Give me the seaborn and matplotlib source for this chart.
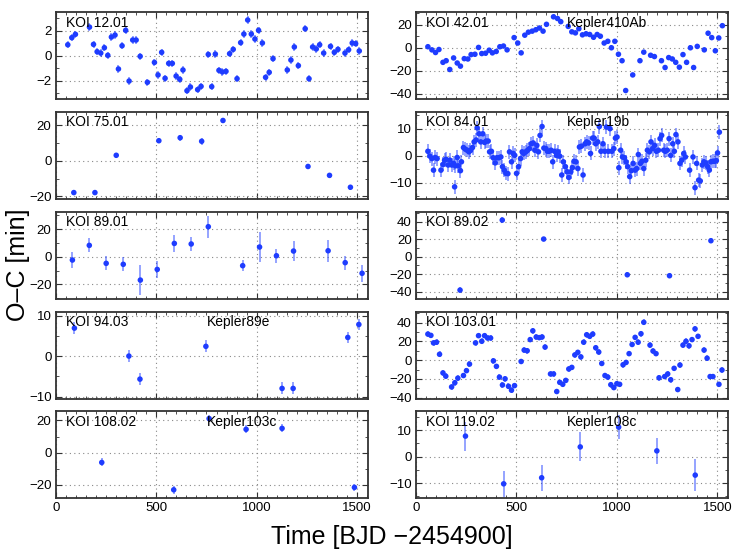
import seaborn as sns
import matplotlib.pyplot as plt
from matplotlib.ticker import MultipleLocator, AutoMinorLocator

# O-C timing residuals per KOI
t_12_01 = [60, 80, 98, 168, 188, 206, 224, 242, 259, 277, 295, 312, 330, 348, 365, 383, 400, 420,
           456, 491, 509, 527, 544, 562, 580, 599, 617, 633, 653, 670, 706, 723, 759, 776, 794, 812,
           829, 847, 865, 883, 902, 920, 936, 955, 973, 991, 1009, 1028, 1044, 1062, 1081, 1152,
           1170, 1187, 1207, 1241, 1260, 1278, 1296, 1313, 1333, 1367, 1386, 1404, 1439, 1457,
           1475, 1492, 1510]
oc_12_01 = [0.88, 1.45, 1.72, 2.3, 0.91, 0.32, 0.21, 0.64, 0.03, 1.5, 1.66, -1.07, 0.8, 2.04, -2.04,
            1.26, 1.26, -0.05, -2.14, -0.54, -1.55, 0.27, -1.82, -0.62, -0.62, -1.64, -1.9, -1.15,
            -2.82, -2.52, -2.73, -2.47, 0.1, -2.49, 0.13, -1.18, -1.31, -1.26, 0.16, 0.51, -1.85,
            1.05, 1.74, 2.87, 1.74, 1.34, 2.04, 1.02, -1.74, -1.34, -0.24, -1.15, -0.35, 0.7, -0.8,
            2.17, -1.85, 0.7, 0.54, 0.88, 0.21, 0.75, 0.27, 0.51, 0.21, 0.48, 1.02, 0.97, 0.38]
err_12_01 = 0.3

t_42_01 = [60, 80, 98, 115, 135, 151, 169, 188, 206, 222, 241, 259, 275, 294, 312, 328, 347, 365,
           381, 400, 418, 436, 454, 489, 507, 524, 542, 560, 579, 597, 615, 633, 650, 685, 705, 721,
           758, 776, 794, 811, 829, 847, 865, 884, 902, 918, 937, 955, 973, 990, 1008, 1026, 1044,
           1079, 1115, 1134, 1168, 1187, 1222, 1240, 1258, 1276, 1293, 1311, 1329, 1347, 1366,
           1382, 1400, 1435, 1454, 1472, 1490, 1507, 1525]
oc_42_01 = [0.9, -1.8, -4.1, -1.5, -12.6, -11.2, -18.8, -8.8, -13.2, -15.9, -9.4, -9.7, -5.9, -5.6,
            0.3, -5.0, -4.7, -2.1, -4.4, -3.2, 0.9, 1.5, -1.8, 8.8, 4.1, -4.4, 10.9, 13.5, 14.4, 15.6,
            17.1, 14.4, 20.3, 26.8, 25.3, 22.6, 18.5, 13.8, 12.9, 16.5, 11.2, 12.1, 11.5, 9.1, 11.5,
            10.0, 4.1, 5.6, 0.0, 5.6, -5.6, -11.2, -37.0, -23.5, -11.2, -3.8, -6.5, -7.6, -11.2,
            -17.1, -8.5, -9.7, -12.6, -16.8, -5.9, -12.6, 0.0, -17.1, 1.2, -1.8, 12.6, 8.8, -2.6,
            8.5, 19.1]
err_42_01 = 2.0

t_75_01 = [90, 195, 301, 513, 619, 726, 832, 1255, 1362, 1466]
oc_75_01 = [-17.9, -17.9, 3.1, 11.3, 13.0, 11.0, 22.7, -3.2, -8.2, -14.9]
err_75_01 = [1.5, 1.5, 1.5, 1.5, 1.8, 2.0, 1.2, 1.5, 1.5, 1.5]

t_84_01 = [60, 70, 80, 88, 96, 106, 125, 135, 143, 151, 161, 169, 179, 188, 193, 197, 206, 212,
           222, 227, 237, 246, 255, 264, 272, 282, 290, 300, 305, 315, 323, 333, 342, 350, 360,
           367, 376, 385, 395, 403, 413, 423, 431, 440, 448, 458, 466, 476, 484, 492, 501, 511,
           521, 529, 537, 547, 555, 565, 574, 584, 592, 602, 610, 618, 628, 637, 647, 655, 663,
           673, 681, 690, 700, 708, 716, 726, 734, 744, 753, 761, 771, 779, 787, 797, 806, 814,
           824, 832, 842, 850, 860, 869, 879, 887, 895, 905, 913, 921, 931, 940, 948, 958, 966,
           975, 985, 993, 1001, 1010, 1019, 1028, 1038, 1046, 1054, 1064, 1072, 1081, 1091, 1099,
           1107, 1117, 1125, 1134, 1144, 1152, 1162, 1170, 1178, 1188, 1197, 1207, 1215, 1223,
           1233, 1241, 1251, 1260, 1268, 1278, 1286, 1294, 1304, 1314, 1323, 1333, 1341, 1362,
           1379, 1389, 1397, 1407, 1415, 1425, 1433, 1442, 1452, 1460, 1468, 1478, 1486, 1495,
           1501, 1510]
oc_84_01 = [1.7, -0.1, -1.0, -5.3, -0.6, -1.0, -5.3, -3.2, -1.6, -1.3, -3.4, -1.6, -3.4, -2.8,
            -11.5, -3.7, -0.6, -3.7, -5.5, -2.2, 3.1, 2.5, 2.1, 1.5, 2.0, 3.1, 5.2, 5.9, 10.4, 8.2,
            5.2, 8.2, 5.0, 5.5, 5.5, 1.5, 1.7, -0.7, -2.6, -0.7, -0.7, -0.4, -4.0, -5.3, -6.5,
            -6.6, 1.5, -2.2, 0.9, 0.2, -6.5, -4.0, -1.0, 1.5, 0.9, 1.5, 2.0, 2.7, 4.5, 4.8, 2.1,
            3.9, 1.5, 7.6, 10.9, 2.9, 2.7, 1.7, 1.7, 2.1, -2.2, 1.7, 0.2, 1.5, -0.1, -7.1, -2.2,
            -4.0, -5.9, -8.0, -5.9, -4.4, -2.0, -2.2, -4.7, 3.3, 3.6, -7.1, 4.5, 5.2, 4.8, 0.9,
            6.6, 6.6, 4.5, 5.2, 10.9, 1.7, 4.5, 1.7, 10.7, 1.7, 10.1, 1.7, 2.7, 6.6, 7.0, -4.4,
            2.1, -0.4, -0.7, -2.2, -4.0, -7.7, -5.5, -2.8, -5.3, -4.7, 0.5, -2.8, -2.0, -4.7,
            -1.6, 2.1, 1.5, 5.2, 2.7, 3.9, 1.7, 2.1, 6.4, 7.6, 2.1, 1.7, 2.1, 6.4, 0.2, 4.5, 1.7,
            7.9, 5.2, -2.8, -1.6, 0.9, -0.4, -5.3, -0.4, -11.8, -2.8, -9.0, -9.3, -3.4, -2.2,
            -2.6, -4.0, -5.3, -2.2, -2.0, -2.0, -1.8, 1.1, 8.8]
err_84_01 = 2.6

t_89_01 = [83, 167, 251, 336, 421, 505, 590, 674, 759, 930, 1014, 1098, 1183, 1355, 1440, 1524]
oc_89_01 = [-2.4, 8.2, -4.8, -5.5, -16.9, -9.2, 9.6, 9.2, 21.7, -6.5, 7.0, 0.7, 4.1, 4.3, -4.3, -12.0]
err_89_01 = [6, 5, 5, 5, 11, 6, 6, 5, 8, 4, 11, 5, 7, 8, 5, 6]

t_89_02 = [220, 430, 636, 1052, 1262, 1468]
oc_89_02 = [-38.1, 41.9, 20.2, -20.6, -21.7, 18.3]
err_89_02 = [3, 3, 2.5, 3, 3, 3]

t_94_03 = [93, 364, 419, 747, 1126, 1181, 1453, 1508]
oc_94_03 = [6.9, 0.0, -5.7, 2.4, -8.0, -8.0, 4.6, 7.8]
err_94_03 = [1.4, 1.4, 1.4, 1.5, 1.5, 1.5, 1.4, 1.4]

t_103_01 = [60, 75, 88, 103, 118, 135, 149, 178, 194, 209, 237, 252, 267, 297, 312, 328, 342, 357,
            372, 386, 401, 416, 431, 444, 461, 476, 491, 524, 539, 554, 569, 582, 599, 614, 628,
            643, 670, 685, 701, 716, 731, 746, 761, 776, 791, 806, 821, 835, 850, 865, 880, 895,
            910, 925, 941, 955, 970, 985, 1000, 1014, 1031, 1046, 1061, 1076, 1091, 1106, 1120,
            1134, 1165, 1180, 1195, 1210, 1238, 1253, 1268, 1285, 1303, 1314, 1329, 1344, 1359,
            1374, 1389, 1404, 1434, 1449, 1464, 1478, 1508, 1523]
oc_103_01 = [27.9, 26.5, 18.5, 19.2, 6.3, -13.6, -17.1, -28.6, -24.1, -19.2, -16.4, -11.2, -4.2,
             18.5, 26.2, 20.2, 26.2, 23.7, 23.7, -0.7, -6.6, -18.1, -26.5, -19.9, -27.9, -32.1,
             -27.2, -1.4, 10.8, 10.1, 22.0, 31.4, 24.8, 24.1, 24.8, 14.0, -14.7, -14.7, -33.5,
             -23.7, -25.8, -21.6, -9.4, -7.7, 5.6, 8.4, 3.5, 19.2, 27.2, 25.5, 27.9, 13.3, 8.7,
             -3.5, -16.4, -18.1, -26.2, -29.3, -25.1, -25.8, -4.9, -2.4, 7.0, 16.8, 24.4, 19.2,
             28.3, 40.5, 16.1, 9.8, 7.0, -18.8, -17.5, -14.7, -20.9, -8.7, -31.4, -5.2, 16.1,
             20.2, 15.4, 22.0, 33.5, 25.5, 10.8, 2.1, -17.5, -17.5, -25.8, -10.5]
err_103_01 = 3.0

t_108_02 = [229, 587, 763, 947, 1126, 1486]
oc_108_02 = [-6.1, -23.1, 21.2, 14.5, 15.1, -21.6]
err_108_02 = [2.5, 2.5, 2.0, 2.5, 2.5, 2.0]

t_119_02 = [247, 437, 626, 818, 1009, 1199, 1390]
oc_119_02 = [7.8, -10.3, -8.0, 3.7, 11.2, 2.2, -7.0]
err_119_02 = [5.5, 5.0, 5.0, 5.5, 4.5, 5.0, 6.0]

koi_labels = ["KOI 12.01", "KOI 42.01", "KOI 75.01", "KOI 84.01", "KOI 89.01",
              "KOI 89.02", "KOI 94.03", "KOI 103.01", "KOI 108.02", "KOI 119.02"]
kepler_names = ["", "Kepler410Ab", "", "Kepler19b", "", "", "Kepler89e", "", "Kepler103c", "Kepler108c"]

panels = [
    (t_12_01, oc_12_01, err_12_01, (-3.5, 3.5), 2),
    (t_42_01, oc_42_01, err_42_01, (-44.5, 30.8), 20),
    (t_75_01, oc_75_01, err_75_01, (-21.5, 27.5), 20),
    (t_84_01, oc_84_01, err_84_01, (-16, 16.3), 10),
    (t_89_01, oc_89_01, err_89_01, (-30.4, 32.5), 20),
    (t_89_02, oc_89_02, err_89_02, (-48, 51.4), 20),
    (t_94_03, oc_94_03, err_94_03, (-10.5, 11), 10),
    (t_103_01, oc_103_01, err_103_01, (-41, 52), 20),
    (t_108_02, oc_108_02, err_108_02, (-28.4, 25.7), 20),
    (t_119_02, oc_119_02, err_119_02, (-15.8, 17.2), 10),
]

sns.set_style("ticks")
plt.rcParams["font.family"] = ["Liberation Sans", "DejaVu Sans"]
plt.rcParams["axes.edgecolor"] = "#333333"
plt.rcParams["axes.linewidth"] = 1.3
plt.rcParams["text.color"] = "black"
plt.rcParams["xtick.labelcolor"] = "black"
plt.rcParams["ytick.labelcolor"] = "black"

blue = "#1e3cff"

fig, axes = plt.subplots(5, 2, figsize=(7.41, 5.54), dpi=100, sharex=True)
plt.subplots_adjust(left=0.0752, right=0.983, top=0.978, bottom=0.1005, wspace=0.152, hspace=0.147)

for i, (t, oc, err, ylim, major) in enumerate(panels):
    ax = axes[i // 2, i % 2]
    ax.errorbar(t, oc, yerr=err, fmt="none", ecolor=blue, alpha=0.55, elinewidth=1.2, capsize=0)
    sns.scatterplot(x=t, y=oc, ax=ax, color=blue, s=16, edgecolor="none", zorder=3)
    ax.set_xlim(0, 1555)
    ax.set_ylim(*ylim)
    ax.xaxis.set_major_locator(MultipleLocator(500))
    ax.xaxis.set_minor_locator(MultipleLocator(50))
    ax.yaxis.set_major_locator(MultipleLocator(major))
    ax.yaxis.set_minor_locator(AutoMinorLocator(2))
    ax.tick_params(which="both", direction="in", top=True, right=True, labelsize=9.5,
                   color="#333333", labelcolor="black", pad=3)
    ax.tick_params(which="major", length=4)
    ax.tick_params(which="minor", length=2)
    ax.grid(True, which="major", linestyle=(0, (1, 3)), color="#888888", linewidth=0.8)
    ax.text(0.032, 0.835, koi_labels[i], transform=ax.transAxes, fontsize=10, color="black")
    if kepler_names[i]:
        ax.text(0.483, 0.835, kepler_names[i], transform=ax.transAxes, fontsize=10, color="black")

fig.text(0.024, 0.522, "O\u2013C [min]", rotation=90, ha="center", va="center", fontsize=18,
         color="black")
fig.text(0.529, 0.031, "Time [BJD \u22122454900]", ha="center", va="center", fontsize=18,
         color="black")

plt.savefig("out.png", dpi=100)
